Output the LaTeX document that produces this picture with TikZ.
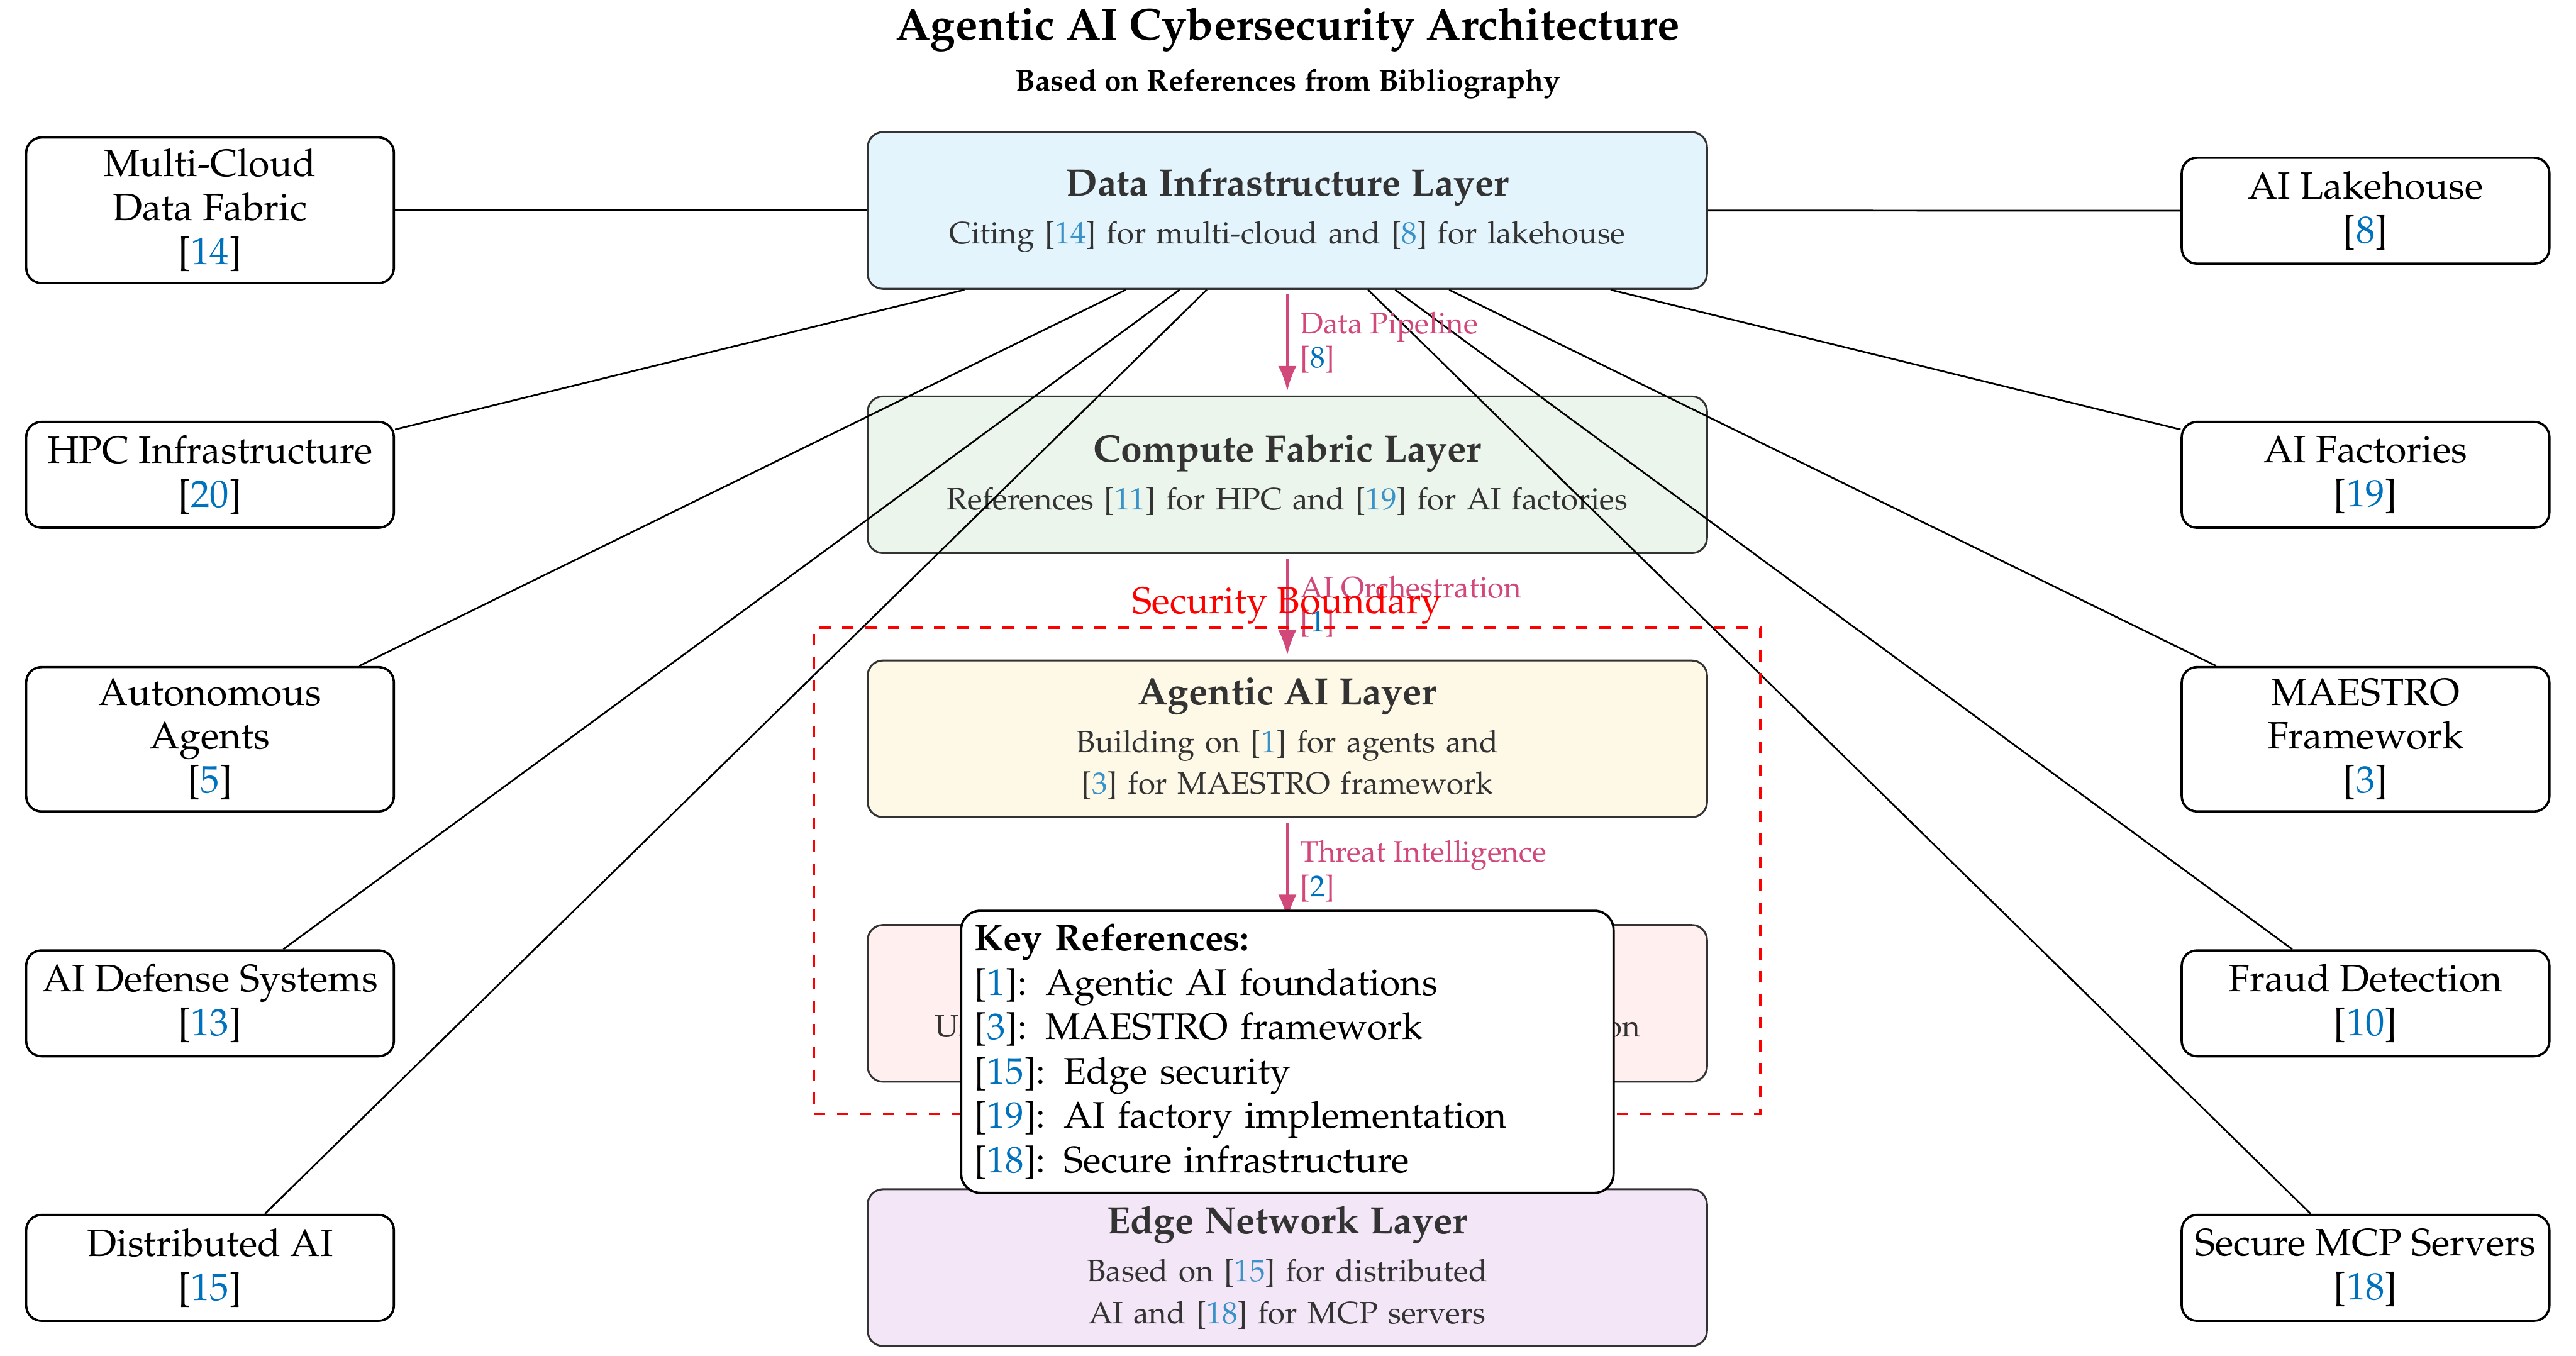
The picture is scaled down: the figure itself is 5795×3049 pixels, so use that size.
\documentclass[tikz,border=0pt]{standalone}
\usepackage[T1]{fontenc}
\usepackage{mathpazo}
\usetikzlibrary{arrows.meta}
\definecolor{citeblue}{RGB}{0,114,189}
\definecolor{citeblueL}{RGB}{58,146,200}
\definecolor{flowpink}{RGB}{209,73,122}
\definecolor{darktext}{RGB}{51,51,51}
\definecolor{fillA}{RGB}{227,244,252}
\definecolor{fillB}{RGB}{235,245,236}
\definecolor{fillC}{RGB}{254,248,230}
\definecolor{fillD}{RGB}{255,239,239}
\definecolor{fillE}{RGB}{243,230,246}
\newcommand{\bref}[1]{[\textcolor{citeblue}{#1}]}
\newcommand{\brefl}[1]{[\textcolor{citeblueL}{#1}]}
\newcommand{\ltitle}[1]{{\fontsize{10}{12}\selectfont\bfseries #1}}
\begin{document}
\begin{tikzpicture}[x=0.1163pt,y=-0.1163pt,
  layer/.style={draw=darktext, line width=0.5pt, rounded corners=4pt,
    minimum width=219.6pt, minimum height=41pt, text width=210pt,
    align=center, inner sep=2pt, text=darktext,
    font=\fontsize{8.1}{11}\selectfont},
  side/.style={draw=black, line width=0.6pt, rounded corners=4pt,
    minimum width=96.2pt, minimum height=27.7pt,
    align=center, inner sep=3pt, font=\fontsize{10}{11.5}\selectfont},
  conn/.style={line width=0.45pt, black},
  flow/.style={flowpink, line width=0.7pt, -{Latex[length=6.5pt,width=4.8pt]},
    shorten <=1.2pt, shorten >=1.2pt},
  flowlab/.style={right, text=flowpink, align=left,
    font=\fontsize{7.8}{9}\selectfont, inner sep=3pt}]
\useasboundingbox (0,0) rectangle (5795,3049);

% titles
\node[font=\fontsize{11.7}{14}\selectfont\bfseries] (title) at (2897,66)
  {Agentic AI Cybersecurity Architecture};
\node[font=\fontsize{7.85}{10}\selectfont\bfseries] (subtitle) at (2897,189)
  {Based on References from Bibliography};

% central layers
\node[layer, fill=fillA] (data) at (2896,473.5)
  {\ltitle{Data Infrastructure Layer}\\[1.5pt]
   Citing \brefl{14} for multi-cloud and \brefl{8} for lakehouse};
\node[layer, fill=fillB] (compute) at (2896,1068)
  {\ltitle{Compute Fabric Layer}\\[1.5pt]
   References \brefl{11} for HPC and \brefl{19} for AI factories};
\node[layer, fill=fillC] (agentic) at (2896,1662)
  {\ltitle{Agentic AI Layer}\\[1.5pt]
   Building on \brefl{1} for agents and\\
   \brefl{3} for MAESTRO framework};
\node[layer, fill=fillD] (security) at (2896,2257)
  {\ltitle{Cybersecurity Layer}\\[1.5pt]
   Using \brefl{13} for defense and \brefl{10} for fraud detection};
\node[layer, fill=fillE] (edge) at (2896,2851.5)
  {\ltitle{Edge Network Layer}\\[1.5pt]
   Based on \brefl{15} for distributed\\
   AI and \brefl{18} for MCP servers};

% side nodes left
\node[side] (mc) at (472.5,473) {Multi-Cloud\\Data Fabric\\\bref{14}};
\node[side] (hpc) at (472.5,1068) {HPC Infrastructure\\\bref{20}};
\node[side] (auto) at (472.5,1663) {Autonomous\\Agents\\\bref{5}};
\node[side] (defense) at (472.5,2257) {AI Defense Systems\\\bref{13}};
\node[side] (dist) at (472.5,2852) {Distributed AI\\\bref{15}};
% side nodes right
\node[side] (lake) at (5321.5,474) {AI Lakehouse\\\bref{8}};
\node[side] (fact) at (5321.5,1068) {AI Factories\\\bref{19}};
\node[side] (maestro) at (5321.5,1663) {MAESTRO\\Framework\\\bref{3}};
\node[side] (fraud) at (5321.5,2257) {Fraud Detection\\\bref{10}};
\node[side] (mcp) at (5321.5,2852) {Secure MCP Servers\\\bref{18}};

% connectors
\foreach \n in {mc,hpc,auto,defense,dist,lake,fact,maestro,fraud,mcp}
  \draw[conn] (data) -- (\n);

% flow arrows
\draw[flow] (data) -- node[flowlab] {Data Pipeline\\\bref{8}} (compute);
\draw[flow] (compute) -- node[flowlab] {AI Orchestration\\\bref{1}} (agentic);
\draw[flow] (agentic) -- node[flowlab] {Threat Intelligence\\\bref{2}} (security);

% security boundary
\node[draw=red, dashed, line width=0.6pt, minimum width=247.6pt,
  minimum height=127.2pt, inner sep=0pt] (boundary) at (2895.5,1959) {};
\node[text=red, anchor=south, inner sep=0.4pt, font=\fontsize{9.8}{12}\selectfont]
  (blabel) at (boundary.north) {Security Boundary};

% key references
\node[draw=black, fill=white, line width=0.6pt, rounded corners=5pt,
  text width=163.7pt, inner sep=3.5pt, align=left, minimum height=73.3pt,
  font=\fontsize{9.7}{11.6}\selectfont] (keyrefs) at (2896,2366)
  {\textbf{Key References:}\\
   \bref{1}: Agentic AI foundations\\
   \bref{3}: MAESTRO framework\\
   \bref{15}: Edge security\\
   \bref{19}: AI factory implementation\\
   \bref{18}: Secure infrastructure};
\end{tikzpicture}
\end{document}
